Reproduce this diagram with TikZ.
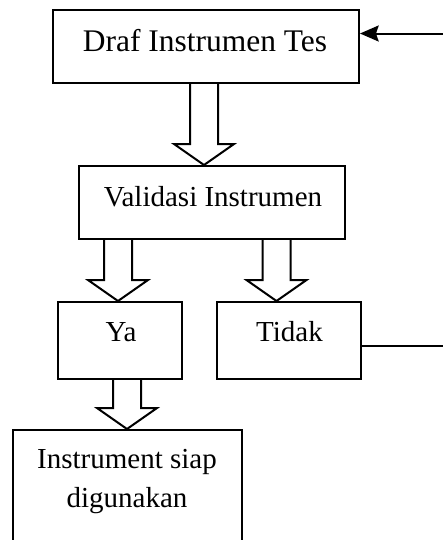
\documentclass[tikz,border=0pt]{standalone}
\usepackage{fontspec}
\setmainfont{Liberation Serif}
\usetikzlibrary{calc,arrows.meta}

% hollow block arrow pointing down: shaft starts at #1, tip at the height of #2
\newcommand\fatarrow[2]{%
  \draw[line] let \p1=(#1), \p2=(#2) in
    (\x1-10.5pt,\y1) -- (\x1-10.5pt,\y2+15.75pt) -- (\x1-22.5pt,\y2+15.75pt)
    -- (\x1,\y2) -- (\x1+22.5pt,\y2+15.75pt) -- (\x1+10.5pt,\y2+15.75pt)
    -- (\x1+10.5pt,\y1);}

\begin{document}
\begin{tikzpicture}[x=0.75pt,y=-0.75pt,
  line/.style={line width=1.5pt,line join=miter},
  box/.style={draw,line width=1.5pt,rectangle,inner sep=0pt},
  bigtxt/.style={anchor=base,inner sep=0pt,font=\fontsize{23.6}{28}\selectfont},
  txt/.style={anchor=base,inner sep=0pt,font=\fontsize{21.75}{29.25}\selectfont}]
\useasboundingbox (0,0) rectangle (443,540);

% boxes
\node[box,minimum width=229.5pt,minimum height=54.75pt] (draf) at (206,46.5) {};
\node[box,minimum width=199.5pt,minimum height=54.75pt] (valid) at (212,202.5) {};
\node[box,minimum width=93pt,minimum height=57.75pt] (ya) at (120,340.5) {};
\node[box,minimum width=108pt,minimum height=57.75pt] (tidak) at (289,340.5) {};
\node[box,minimum width=171.75pt,minimum height=105pt] (siap) at (127.5,500) {};

% labels
\node[bigtxt] (draf-t) at (205,51) {Draf Instrumen Tes};
\node[txt] (valid-t) at (213,206) {Validasi Instrumen};
\node[txt] (ya-t) at (121,341) {Ya};
\node[txt] (tidak-t) at (289.5,341) {Tidak};
\node[txt] (siap-t1) at (127,468) {Instrument siap};
\node[txt] (siap-t2) at (127,507) {digunakan};

% block arrows
\fatarrow{$(draf.south)+(-2,0)$}{valid.north}
\fatarrow{$(valid.south west)+(40,0)$}{ya.north}
\fatarrow{$(valid.south west)+(198.5,0)$}{tidak.north}
\fatarrow{$(ya.south west)+(70,0)$}{siap.north}

% feedback from "Tidak" back to the draft
\coordinate (backR) at (443,346);
\coordinate (backT) at (443,33.5);
\draw[line] (tidak.east |- backR) -- (backR);
\draw[line,-{Stealth[length=14pt,width=12pt,inset=2pt]}] (backT) -- (backT -| draf.east);
\end{tikzpicture}
\end{document}
